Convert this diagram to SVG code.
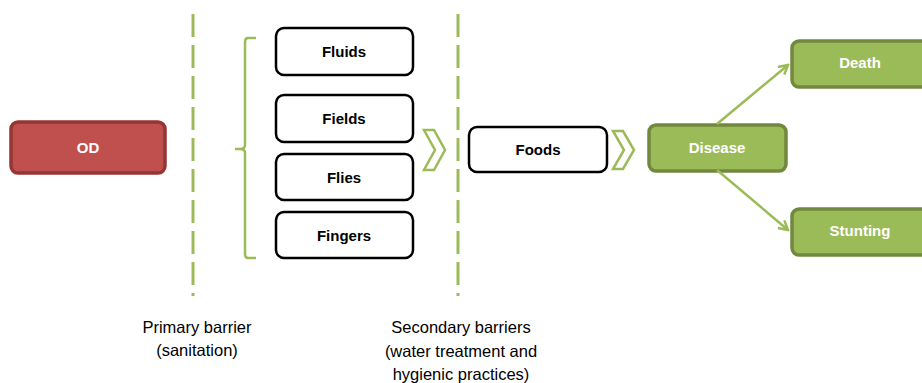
<svg xmlns="http://www.w3.org/2000/svg" width="922" height="383" viewBox="0 0 922 383">
<defs>
<style>
.lbl{font-family:"Liberation Sans",Arial,sans-serif;font-size:15px;font-weight:bold;text-anchor:middle}
.cap{font-family:"Liberation Sans",Arial,sans-serif;font-size:16.5px;text-anchor:middle;fill:#000}
.wbox{fill:#fff;stroke:#000;stroke-width:2.5}
.gbox{fill:#9bbb59;stroke:#71893f;stroke-width:3.5}
.dash{stroke:#9bbb59;stroke-width:3;stroke-dasharray:23 8;fill:none}
.chev{fill:#fff;stroke:#9bbb59;stroke-width:2.5;stroke-linejoin:miter}
.conn{stroke:#9bbb59;stroke-width:2.5;fill:none}
</style>
<marker id="arr" markerWidth="12" markerHeight="12" refX="10" refY="6" orient="auto" markerUnits="userSpaceOnUse">
<path d="M1,1 L10,6 L1,11" fill="none" stroke="#9bbb59" stroke-width="2.5"/>
</marker>
</defs>
<rect width="922" height="383" fill="#fff"/>
<g id="barriers">
<line class="dash" x1="193" y1="14" x2="193" y2="296"/>
<line class="dash" x1="458" y1="14" x2="458" y2="296"/>
<path d="M256,38 L248,38 Q245,38 245,42 L245,145 Q245,149 240,149 L235,149 M240,149 Q245,149 245,153 L245,254 Q245,258 248,258 L256,258" fill="none" stroke="#9bbb59" stroke-width="2.5"/>
</g>
<g id="OD">
<rect x="11" y="122" width="154" height="51" rx="7" fill="#c0504d" stroke="#943634" stroke-width="3.5"/>
<text class="lbl" x="88" y="153" fill="#fff">OD</text>
</g>
<g id="Fluids"><rect class="wbox" x="276" y="28" width="137" height="47" rx="8"/><text class="lbl" x="344" y="57">Fluids</text></g>
<g id="Fields"><rect class="wbox" x="276" y="95" width="137" height="47" rx="8"/><text class="lbl" x="344" y="124">Fields</text></g>
<g id="Flies"><rect class="wbox" x="276" y="154" width="137" height="46" rx="8"/><text class="lbl" x="344" y="183">Flies</text></g>
<g id="Fingers"><rect class="wbox" x="276" y="212" width="137" height="46" rx="8"/><text class="lbl" x="344" y="241">Fingers</text></g>
<g id="chevron1"><polygon class="chev" points="424,130 434,130 445,150 434,170 424,170 435,150"/></g>
<g id="Foods"><rect class="wbox" x="469" y="127" width="138" height="45" rx="8"/><text class="lbl" x="538" y="155">Foods</text></g>
<g id="chevron2"><polygon class="chev" points="613,131 623,131 634,150 623,169 613,169 624,150"/></g>
<g id="Disease"><rect class="gbox" x="649" y="125" width="137" height="46" rx="7"/><text class="lbl" x="717" y="153" fill="#fff">Disease</text></g>
<g id="Death"><rect class="gbox" x="792" y="41" width="138" height="46" rx="7"/><text class="lbl" x="860" y="68" fill="#fff">Death</text></g>
<g id="Stunting"><rect class="gbox" x="792" y="209" width="138" height="46" rx="7"/><text class="lbl" x="860" y="236" fill="#fff">Stunting</text></g>
<g id="connectors">
<line class="conn" x1="717" y1="124" x2="788" y2="65" marker-end="url(#arr)"/>
<line class="conn" x1="717" y1="170" x2="788" y2="230" marker-end="url(#arr)"/>
</g>
<g id="captions">
<text class="cap" x="197" y="333">Primary barrier</text>
<text class="cap" x="197" y="356">(sanitation)</text>
<text class="cap" x="461" y="333">Secondary barriers</text>
<text class="cap" x="461" y="357">(water treatment and</text>
<text class="cap" x="461" y="380">hygienic practices)</text>
</g>
</svg>
